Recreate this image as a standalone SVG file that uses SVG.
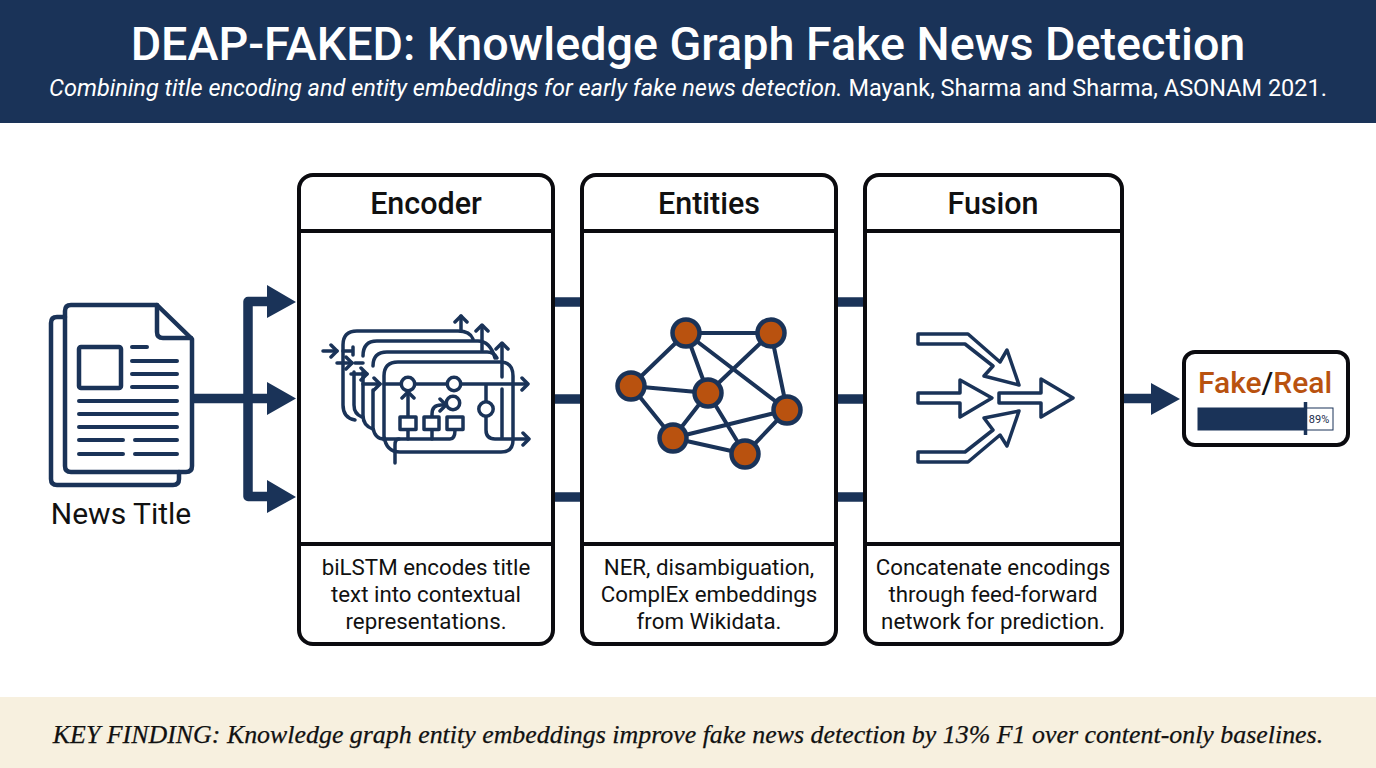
<svg xmlns="http://www.w3.org/2000/svg" width="1376" height="768" viewBox="0 0 1376 768">
<style>
text{font-family:Roboto,"Liberation Sans",sans-serif;text-anchor:middle;fill:#111}
.panel{fill:#fff;stroke:#0b0b0f;stroke-width:4}
.div{stroke:#0b0b0f;stroke-width:4;fill:none}
.head{font-size:30.500px;font-weight:500}
.cap{font-size:22.300px}
.ln{fill:none;stroke:#1a3358;stroke-linecap:round;stroke-linejoin:round}
.conn{fill:none;stroke:#1a3358;stroke-width:9.500}
.ah{fill:#1a3358}
.edge{stroke:#1a3358;stroke-width:4}
.ent{fill:#b9520f;stroke:#1a3358;stroke-width:4.500}
</style>
<rect width="1376" height="768" fill="#fff"/>
<g id="header">
<rect width="1376" height="123" fill="#1a3358"/>
<text x="688" y="60" font-size="46.700" font-weight="500" style="fill:#fff">DEAP-FAKED: Knowledge Graph Fake News Detection</text>
<text x="688" y="96" font-size="23.500" style="fill:#fff"><tspan font-style="italic">Combining title encoding and entity embeddings for early fake news detection.</tspan> Mayank, Sharma and Sharma, ASONAM 2021.</text>
</g>
<g id="connectors">
<path class="conn" d="M192 398.500H275"/>
<path class="conn" stroke-linejoin="round" d="M275 301.500H248V496.500H275"/>
<path class="ah" d="M267 285L296 302L267 318ZM267 382L296 398.500L267 415ZM267 480L296 497L267 513Z"/>
<path class="conn" d="M553 302H582M553 399H582M553 497H582M836 302H865M836 399H865M836 497H865M1122 398.500H1155"/>
<path class="ah" d="M1151 383L1180 399L1151 415Z"/>
</g>
<g id="news-title">
<path d="M65 317H57Q51 317 51 323V479Q51 485 57 485H173Q179 485 179 479V472" class="ln" stroke-width="4.500"/>
<path d="M71 305H157L192 339V466Q192 472 186 472H71Q65 472 65 466V311Q65 305 71 305Z" class="ln" fill="#fff" stroke-width="4.500"/>
<path d="M157 305V332Q157 338 163 338H191" class="ln" stroke-width="4.500"/>
<rect x="79" y="347" width="42" height="41" rx="2" class="ln" stroke-width="4.500"/>
<path class="ln" stroke-width="4" d="M132 347H147M132 361H177M132 374H177M132 387H177M79 401H177M79 414H177M79 427H177M79 440H123M135 440H177M79 454H123M135 454H177"/>
<text x="121" y="524" font-size="30">News Title</text>
</g>
<g id="encoder">
<rect class="panel" x="299" y="175" width="254" height="469" rx="14"/>
<path class="div" d="M299 231H553M299 544H553"/>
<text class="head" x="426" y="214">Encoder</text>
<text class="cap" x="426" y="575">biLSTM encodes title</text>
<text class="cap" x="426" y="602">text into contextual</text>
<text class="cap" x="426" y="629">representations.</text>
<g class="ln" stroke-width="3.500">
<path d="M355 420Q343 418 343 405V345Q343 331 357 331H458Q470 331 473 339"/>
<path d="M362 417Q354 414 354 405V372M363 356Q363 341 377 341H478Q490 341 495 358"/>
<path d="M373 429Q363 426 363 415V372M373 366Q373 352 387 352H487Q494 352 497 358"/>
<path d="M384 440V376Q384 362 398 362H500Q513 362 513 376V440Q513 452 501 452H400Q386 452 384 436"/>
<path d="M373 428V390M373 428Q375 439 384 439H450Q455 439 455 430"/>
<path d="M395 463V445Q395 439 399 439"/>
<path d="M408 439V430M432 439V430"/>
<path d="M384 384H527M486 384V430Q486 439 495 439H528M502 389V438M502 377V344M482 350V326M461 331V316"/>
<path d="M353 347V355M343 351H353M355 363H363"/>
<path d="M408 417V393M432 417V414Q432 405 441 405H445"/>
<path d="M323 351H337M337 363H352M351 374H367M363 384H380"/>
<path d="M331 345L337 351L331 357M346 357L352 363L346 369M361 368L367 374L361 380M374 378L380 384L374 390M522 378L528 384L522 390M523 433L529 439L523 445M455 322L461 316L467 322M476 331L482 325L488 331M496 349L502 343L508 349M402 398L408 392L414 398M440 399L446 405L440 411"/>
<circle cx="408" cy="384" r="6.700" fill="#fff"/><circle cx="454" cy="384" r="6.700" fill="#fff"/><circle cx="453" cy="403" r="6.700" fill="#fff"/><circle cx="486" cy="409" r="7.200" fill="#fff"/>
<rect x="400" y="417" width="16" height="12.500" fill="#fff"/><rect x="424" y="417" width="15" height="12.500" fill="#fff"/><rect x="447" y="417" width="16" height="12.500" fill="#fff"/>
</g>
</g>
<g id="entities">
<rect class="panel" x="582" y="175" width="254" height="469" rx="14"/>
<path class="div" d="M582 231H836M582 544H836"/>
<text class="head" x="709" y="214">Entities</text>
<text class="cap" x="709" y="575">NER, disambiguation,</text>
<text class="cap" x="709" y="602">ComplEx embeddings</text>
<text class="cap" x="709" y="629">from Wikidata.</text>
<path class="edge" d="M686 333H771M686 333L631 386M686 333L708 393M686 333L787 410M771 333L708 393M771 333L787 410M631 386L708 393M631 386L673 438M708 393L673 438M708 393L745 454M673 438L787 410M673 438L745 454M787 410L745 454"/>
<circle class="ent" cx="686" cy="333" r="13.500"/><circle class="ent" cx="771" cy="333" r="13.500"/><circle class="ent" cx="631" cy="386" r="13.500"/><circle class="ent" cx="708" cy="393" r="13.500"/><circle class="ent" cx="787" cy="410" r="13.500"/><circle class="ent" cx="673" cy="438" r="13.500"/><circle class="ent" cx="745" cy="454" r="13.500"/>
</g>
<g id="fusion">
<rect class="panel" x="865" y="175" width="257" height="469" rx="14"/>
<path class="div" d="M865 231H1122M865 544H1122"/>
<text class="head" x="993" y="214">Fusion</text>
<text class="cap" x="993" y="575">Concatenate encodings</text>
<text class="cap" x="993" y="602">through feed-forward</text>
<text class="cap" x="993" y="629">network for prediction.</text>
<g class="ln" stroke-width="3.500">
<path d="M918 334H968L1000 362L1007 350L1019 385L984 376L993 366L965 344H918Z"/>
<path d="M918 393H960V380L992 398L960 417V403H918Z"/>
<path d="M999 393H1041V379L1073 398L1041 417V403H999Z"/>
<path d="M918 462H968L1000 435L1007 446L1019 411L984 418L993 430L965 452H918Z"/>
</g>
</g>
<g id="output">
<rect x="1184" y="352" width="164" height="93" rx="11" fill="#fff" stroke="#0b0b0f" stroke-width="4"/>
<text x="1265" y="393" font-size="30" font-weight="500"><tspan style="fill:#b9520f">Fake</tspan><tspan style="fill:#111">/</tspan><tspan style="fill:#b9520f">Real</tspan></text>
<rect x="1198" y="408" width="135" height="22" fill="#fff" stroke="#1a3358" stroke-width="1"/>
<rect x="1198" y="408" width="107" height="22" fill="#1a3358"/>
<path d="M1305.500 402V435" stroke="#1a3358" stroke-width="3.500"/>
<text x="1319" y="423" font-size="11" style="fill:#1a2b4a">89%</text>
</g>
<g id="key-finding">
<rect y="697" width="1376" height="71" fill="#f7f0df"/>
<text x="688" y="743" font-size="25.900" font-style="italic" stroke="#111" stroke-width="0.250" style="font-family:'Liberation Serif',serif">KEY FINDING: Knowledge graph entity embeddings improve fake news detection by 13% F1 over content-only baselines.</text>
</g>
</svg>
